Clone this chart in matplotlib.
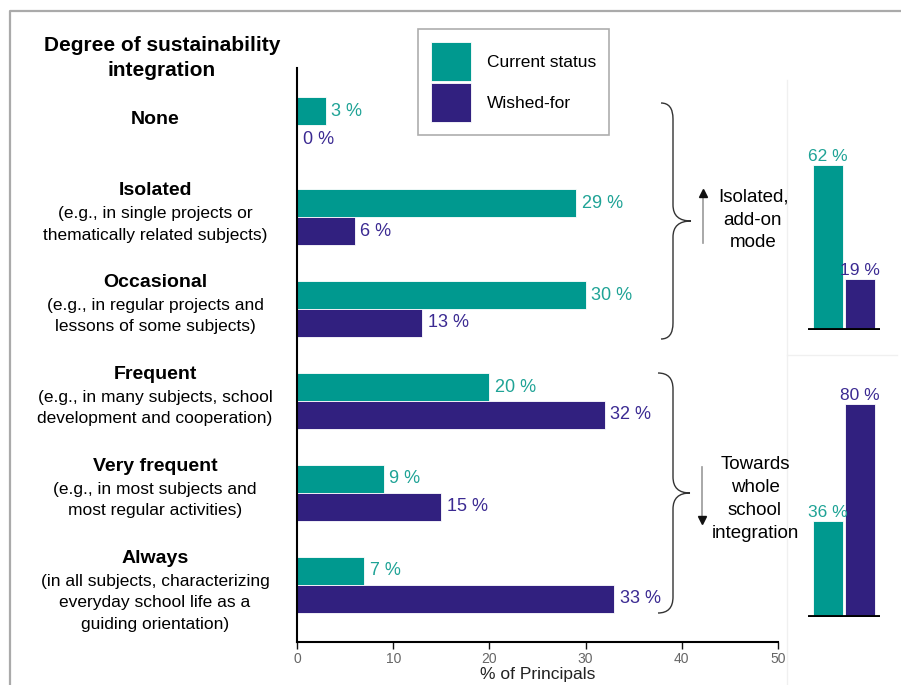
import numpy as np
import matplotlib
matplotlib.use("Agg")
from matplotlib import pyplot as plt
import matplotlib.transforms as mtrans
from matplotlib.path import Path
from matplotlib.patches import PathPatch

plt.rcParams['font.family'] = ['Liberation Sans', 'DejaVu Sans']

# data
levels = ["None", "Isolated", "Occasional", "Frequent", "Very frequent", "Always"]
details = ["",
           "(e.g., in single projects or\nthematically related subjects)",
           "(e.g., in regular projects and\nlessons of some subjects)",
           "(e.g., in many subjects, school\ndevelopment and cooperation)",
           "(e.g., in most subjects and\nmost regular activities)",
           "(in all subjects, characterizing\neveryday school life as a\nguiding orientation)"]
current = [3, 29, 30, 20, 9, 7]
wished = [0, 6, 13, 32, 15, 33]

# summary bars (isolated/add-on vs. whole school)
summary_current = [62, 36]
summary_wished = [19, 80]

teal = "#00998F"
purple = "#31207F"
teal_txt = "#1FA396"
purple_txt = "#3B2A92"

W, H = 901, 685
fig = plt.figure(figsize=(W / 100, H / 100), dpi=100)

def fx(px):
    return px / W

def fy(py):
    return 1 - py / H

# overlay in pixel coords for decorations
ov = fig.add_axes([0, 0, 1, 1], zorder=5)
ov.set_xlim(0, W)
ov.set_ylim(H, 0)
ov.axis("off")
ov.plot([10, 10, W], [H, 11, 11], color="#aaaaaa", lw=1.6)
ov.plot([787, 787], [80, H], color="#f0f0f0", lw=1)
ov.plot([787, 897], [355, 355], color="#f0f0f0", lw=1)

# main chart
ax = fig.add_axes([fx(297), fy(642), fx(778) - fx(297), fy(68) - fy(642)])
ax.patch.set_alpha(0)
y = np.arange(len(levels))
bh = 0.304
ax.barh(y - bh / 2, current, height=bh, color=teal, edgecolor="white", lw=0.6, label="Current status")
ax.barh(y + bh / 2, wished, height=bh, color=purple, edgecolor="white", lw=0.6, label="Wished-for")
for yi, c, w in zip(y, current, wished):
    ax.annotate(f"{c} %", (c, yi - bh / 2), xytext=(4, 0), textcoords="offset points",
                va="center", ha="left", fontsize=13, color=teal_txt)
    ax.annotate(f"{w} %", (w, yi + bh / 2), xytext=(4, 0), textcoords="offset points",
                va="center", ha="left", fontsize=13, color=purple_txt)
ax.set_xlim(0, 50)
ax.set_ylim(5.62, -0.62)
ax.set_yticks([])
ax.set_xticks(range(0, 51, 10))
ax.tick_params(axis="x", colors="#111111", labelcolor="#666666", labelsize=10, length=5, width=1, pad=2)
ax.spines[["top", "right"]].set_visible(False)
ax.spines[["left", "bottom"]].set_linewidth(1.5)
ax.set_xlabel("% of Principals", fontsize=12.5, color="#222222", labelpad=1)

# left labels
tr = mtrans.blended_transform_factory(fig.transFigure, ax.transData)
for yi, name, det in zip(y, levels, details):
    if det:
        ax.annotate(name, (fx(155), yi), xycoords=tr, xytext=(0, 19), textcoords="offset points",
                    ha="center", va="center", fontsize=14, fontweight="bold")
        ax.annotate(det, (fx(155), yi), xycoords=tr, xytext=(0, 8), textcoords="offset points",
                    ha="center", va="top", fontsize=12.5, linespacing=1.55)
    else:
        ax.annotate(name, (fx(155), yi), xycoords=tr, xytext=(0, 4), textcoords="offset points",
                    ha="center", va="center", fontsize=14, fontweight="bold")
fig.text(fx(162), fy(58), "Degree of sustainability\nintegration", ha="center", va="center",
         fontsize=15, fontweight="bold", linespacing=1.4)

# legend
ax.legend(loc="upper left", bbox_to_anchor=(fx(418), fy(29)), bbox_transform=fig.transFigure,
          fontsize=12.5, frameon=True, fancybox=False, edgecolor="#999999",
          handlelength=2.3, handleheight=3.08, labelspacing=0.12, borderpad=0.75,
          handletextpad=0.9, borderaxespad=0)
ax.get_legend().get_frame().set_linewidth(1.2)

# braces
def brace(x_end, x_mid, x_tip, y0, y1, r=16):
    ym = (y0 + y1) / 2
    verts = [(x_end, y0), (x_mid, y0), (x_mid, y0 + r),
             (x_mid, ym - r), (x_mid, ym), (x_tip, ym),
             (x_mid, ym), (x_mid, ym + r),
             (x_mid, y1 - r), (x_mid, y1), (x_end, y1)]
    codes = [Path.MOVETO, Path.CURVE3, Path.CURVE3,
             Path.LINETO, Path.CURVE3, Path.CURVE3,
             Path.CURVE3, Path.CURVE3,
             Path.LINETO, Path.CURVE3, Path.CURVE3]
    ov.add_patch(PathPatch(Path(verts, codes), fill=False, ec="#333333", lw=1))

brace(661, 673, 691, 103, 339)
brace(658, 673, 690, 373, 613)

# arrows
ov.plot([703, 703], [243, 196], color="#999999", lw=1.2)
ov.plot([703], [193], marker="^", color="#111111", ms=6)
ov.plot([702, 702], [467, 517], color="#999999", lw=1.2)
ov.plot([702], [520], marker="v", color="#111111", ms=6)
ov.text(753, 220, "Isolated,\nadd-on\nmode", ha="center", va="center", fontsize=13.5, linespacing=1.45)
ov.text(755, 499, "Towards\nwhole\nschool\nintegration", ha="center", va="center", fontsize=13.5, linespacing=1.45)

# summary mini charts
for i, base in enumerate([330, 617]):
    sa = fig.add_axes([fx(808), fy(base), fx(880) - fx(808), fy(base - 266) - fy(base)])
    sa.patch.set_alpha(0)
    vals = [summary_current[i], summary_wished[i]]
    sa.bar([0, 1], vals, width=0.94, color=[teal, purple], edgecolor="white", lw=0.6)
    for xi, v, col in zip([0, 1], vals, [teal_txt, purple_txt]):
        sa.text(xi, v + 0.5, f"{v} %", ha="center", va="bottom", fontsize=12.5, color=col)
    sa.set_xlim(-0.625, 1.625)
    sa.set_ylim(0, 100)
    sa.axis("off")
    sa.axhline(0, color="black", lw=3.5, solid_capstyle="round")

fig.savefig("out.png", dpi=100)
